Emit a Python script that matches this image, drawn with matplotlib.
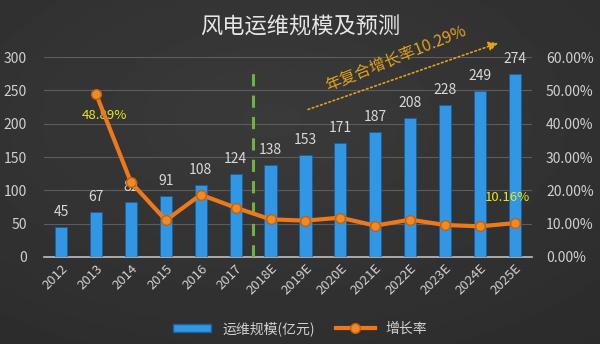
import numpy as np
import matplotlib
matplotlib.use("Agg")
from matplotlib import pyplot as plt
from matplotlib.lines import Line2D
from matplotlib.patches import Patch

plt.rcParams['font.family'] = ['Noto Sans CJK SC', 'DejaVu Sans']

years = ["2012", "2013", "2014", "2015", "2016", "2017", "2018E", "2019E",
         "2020E", "2021E", "2022E", "2023E", "2024E", "2025E"]
scale = [45, 67, 82, 91, 108, 124, 138, 153, 171, 187, 208, 228, 249, 274]
growth = [None, 48.89, 22.4, 11.0, 18.7, 14.8, 11.3, 10.9, 11.8, 9.4, 11.2, 9.6, 9.2, 10.16]

fig = plt.figure(figsize=(6, 3.44), dpi=100)

# dark gradient background
bg = fig.add_axes([0, 0, 1, 1], zorder=-10)
yy, xx = np.mgrid[0:1:200j, 0:1:300j]
grad = 0.23 - 0.07 * np.sqrt((xx - 0.45) ** 2 + (yy - 0.35) ** 2)
bg.imshow(grad, cmap="gray", vmin=0, vmax=1, aspect="auto", extent=[0, 1, 0, 1])
bg.axis("off")

ax = fig.add_axes([0.073, 0.253, 0.814, 0.581])
ax.set_facecolor("none")
x = np.arange(len(years))

ax.bar(x, scale, width=0.35, color="#3196e3", edgecolor="#1a5f9e", linewidth=0.6, zorder=3)
for xi, v in zip(x, scale):
    ax.annotate(str(v), (xi, v), xytext=(0, 6), textcoords="offset points",
                ha="center", va="bottom", color="#d8d8d8", fontsize=10)

ax.set_xlim(-0.5, len(years) - 0.5)
ax.set_ylim(0, 300)
ax.set_yticks(range(0, 301, 50))
ax.grid(axis="y", color="#5c5c5c", linewidth=0.8, zorder=0)
for s in ["top", "right", "left"]:
    ax.spines[s].set_visible(False)
ax.spines["bottom"].set_color("#bfbfbf")
ax.spines["bottom"].set_linewidth(1.2)
ax.tick_params(axis="both", length=0, colors="#d0d0d0", labelsize=10)
ax.set_xticks(x)
ax.set_xticklabels(years, rotation=45, ha="right", rotation_mode="anchor", fontsize=9.5)
ax.tick_params(axis="y", pad=12)

ax.axvline(5.5, ymin=0.0, ymax=0.95, color="#6fb33c", linestyle=(0, (4, 3)), linewidth=2.2, zorder=4)

ax2 = ax.twinx()
ax2.set_ylim(0, 60)
ax2.set_yticks(range(0, 61, 10))
ax2.set_yticklabels([f"{t:.2f}%" for t in range(0, 61, 10)])
ax2.tick_params(axis="y", length=0, colors="#d0d0d0", labelsize=10, pad=10)
for s in ax2.spines.values():
    s.set_visible(False)
gx = [xi for xi, g in zip(x, growth) if g is not None]
gy = [g for g in growth if g is not None]
ax2.plot(gx, gy, color="#ec7a1c", linewidth=3, marker="o", markersize=7,
         markerfacecolor="#f08a24", markeredgecolor="#c85f0a", zorder=5)
ax2.annotate("48.89%", (1, 48.89), xytext=(1.25, 42.5), color="#e8e820", fontsize=9.5,
             ha="center", va="center")
ax2.annotate("10.16%", (13, 10.16), xytext=(12.8, 18), color="#e8e820", fontsize=9.5,
             ha="center", va="center")

# CAGR arrow
ax2.annotate("", xy=(12.6, 64.5), xytext=(7.0, 44), annotation_clip=False,
             arrowprops=dict(arrowstyle="-|>", color="#e3a21a", linestyle=":",
                             linewidth=1.2, mutation_scale=14))
ax2.text(9.6, 59.5, "年复合增长率10.29%", color="#e3a21a", fontsize=11.5,
         rotation=22, ha="center", va="center")

fig.text(0.5, 0.92, "风电运维规模及预测", ha="center", va="center", color="#e6e6e6", fontsize=16)

handles = [Patch(facecolor="#3196e3", edgecolor="#1a5f9e"),
           Line2D([0], [0], color="#ec7a1c", linewidth=3, marker="o", markersize=7,
                  markerfacecolor="#f08a24", markeredgecolor="#c85f0a")]
fig.legend(handles, ["运维规模(亿元)", "增长率"], loc="center", bbox_to_anchor=(0.5, 0.045),
           ncol=2, frameon=False, labelcolor="#d0d0d0", fontsize=10, handlelength=2.8,
           handleheight=0.5, columnspacing=1.5)

fig.savefig("out.png", dpi=100)
